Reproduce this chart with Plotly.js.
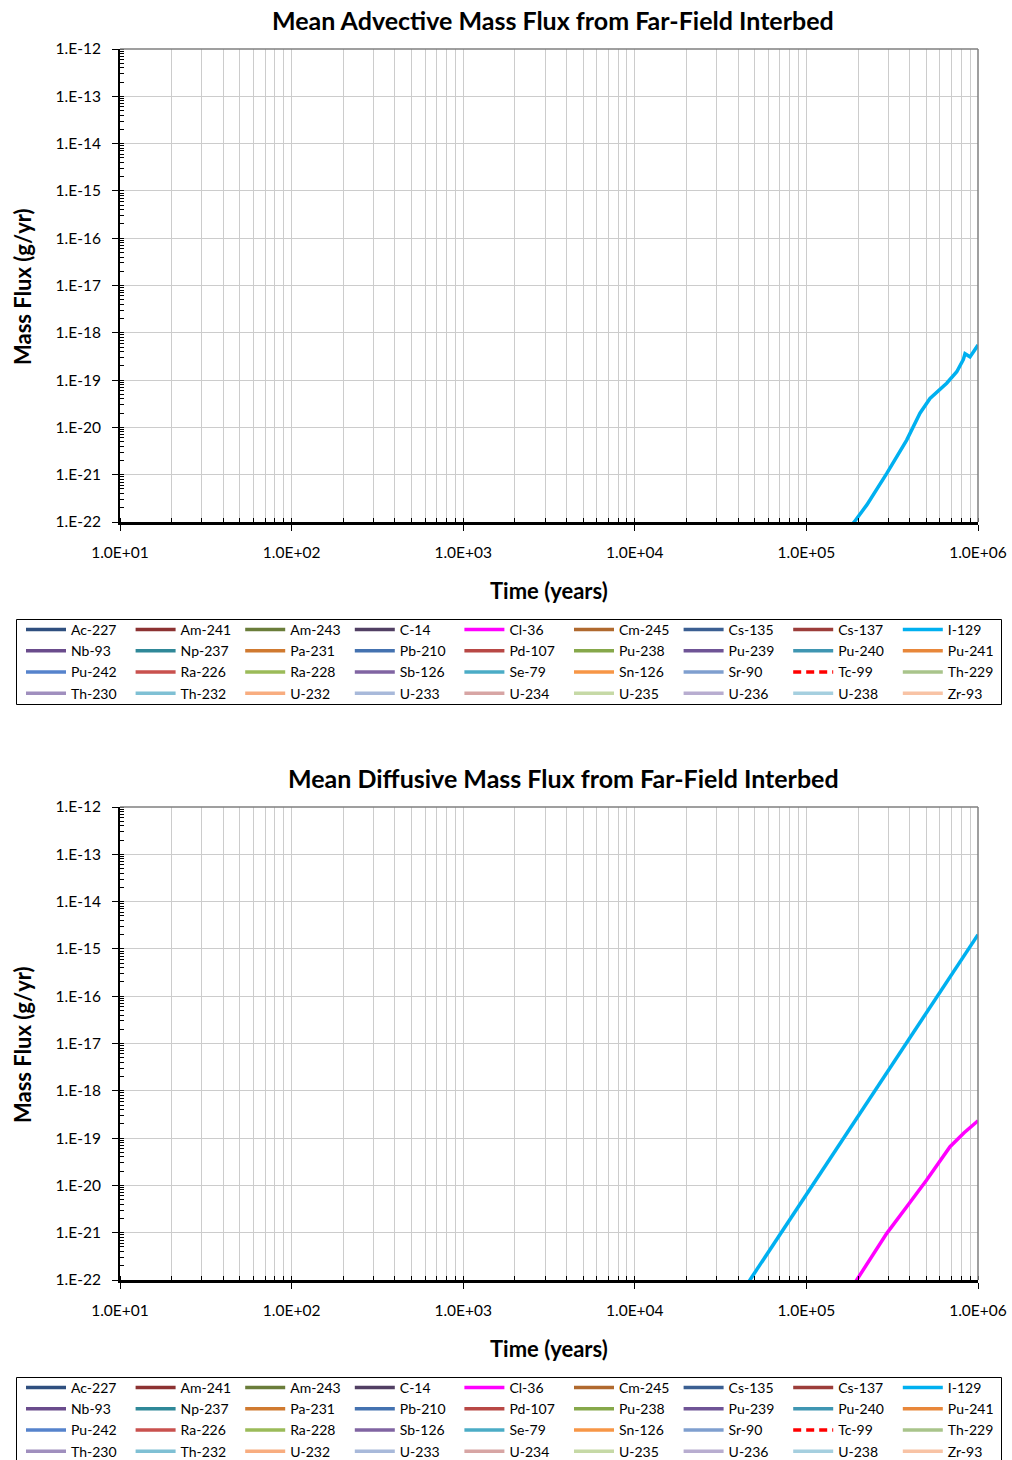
<!DOCTYPE html>
<html>
<head>
<meta charset="utf-8">
<script src="https://cdn.plot.ly/plotly-3.0.1.min.js"></script>
<style>
  html, body { margin: 0; padding: 0; background: #ffffff; }
  #chart { width: 1012px; height: 1460px; }
</style>
</head>
<body>
<div id="chart"></div>
<script>
// Nuclides shown in both legends, in legend order
const nuclides = [
  'Ac-227', 'Am-241', 'Am-243', 'C-14', 'Cl-36', 'Cm-245', 'Cs-135', 'Cs-137', 'I-129',
  'Nb-93', 'Np-237', 'Pa-231', 'Pb-210', 'Pd-107', 'Pu-238', 'Pu-239', 'Pu-240', 'Pu-241',
  'Pu-242', 'Ra-226', 'Ra-228', 'Sb-126', 'Se-79', 'Sn-126', 'Sr-90', 'Tc-99', 'Th-229',
  'Th-230', 'Th-232', 'U-232', 'U-233', 'U-234', 'U-235', 'U-236', 'U-238', 'Zr-93'
];
const nuclideColors = [
  '#2f4f7f', '#8c3232', '#6a7d3a', '#513f63', '#ff00ff', '#b0692e', '#3b5f92', '#9c3d3a', '#00b0f0',
  '#6a4c8c', '#2f8898', '#d07a30', '#4472b0', '#b84845', '#86a84a', '#6f5496', '#3f96b2', '#e8873a',
  '#5683cc', '#c9514e', '#9bbb59', '#8064a2', '#4bacc6', '#f79646', '#7f9fcf', '#ff0000', '#a9c48b',
  '#a08fbe', '#7fc0d4', '#f8ad80', '#a8b9da', '#d7a5a4', '#c6d9a6', '#b8add0', '#a5cfdf', '#f8c3a5'
];

// Mean advective mass flux (g/yr) vs time (years)
const advTimeI129 = [1.85e5, 1.9e5, 2.25e5, 2.94e5, 3.84e5, 4.59e5, 5.25e5, 5.74e5, 6.57e5, 7.52e5, 8.21e5, 8.4e5, 8.98e5, 1.0e6];
const advFluxI129 = [9.0e-23, 1.0e-22, 2.3e-22, 1.07e-21, 5.4e-21, 2.0e-20, 4.1e-20, 5.4e-20, 8.6e-20, 1.5e-19, 2.7e-19, 3.6e-19, 3.1e-19, 5.5e-19];

// Mean diffusive mass flux (g/yr) vs time (years)
const difTimeI129 = [4.5e4, 5.0e4, 1.0e5, 2.0e5, 5.0e5, 1.0e6];
const difFluxI129 = [8.0e-23, 1.43e-22, 6.4e-21, 2.9e-19, 4.6e-17, 2.0e-15];
const difTimeCl36 = [1.9e5, 2.0e5, 2.5e5, 2.94e5, 4.0e5, 5.02e5, 6.87e5, 8.3e5, 1.0e6];
const difFluxCl36 = [8.3e-23, 1.1e-22, 3.9e-22, 9.7e-22, 4.3e-21, 1.3e-20, 6.6e-20, 1.3e-19, 2.33e-19];

// Axis tick labels
const xTickVals = [1e1, 1e2, 1e3, 1e4, 1e5, 1e6];
const xTickText = ['1.0E+01', '1.0E+02', '1.0E+03', '1.0E+04', '1.0E+05', '1.0E+06'];
const yTickVals = [1e-12, 1e-13, 1e-14, 1e-15, 1e-16, 1e-17, 1e-18, 1e-19, 1e-20, 1e-21, 1e-22];
const yTickText = ['1.E-12', '1.E-13', '1.E-14', '1.E-15', '1.E-16', '1.E-17', '1.E-18', '1.E-19', '1.E-20', '1.E-21', '1.E-22'];

const chartTitles = ['Mean Advective Mass Flux from Far-Field Interbed', 'Mean Diffusive Mass Flux from Far-Field Interbed'];
const xTitle = 'Time (years)';
const yTitle = 'Mass Flux (g/yr)';

// Series with flux above the plotted range; every other nuclide has no value to draw
const advSeries = { 'I-129': [advTimeI129, advFluxI129] };
const difSeries = { 'I-129': [difTimeI129, difFluxI129], 'Cl-36': [difTimeCl36, difFluxCl36] };
const noValue = [[null], [null]];

const FONT = 'Lato, "Open Sans", sans-serif';
const W = 1012, H = 1460;
const px = v => v / W;
const py = v => 1 - v / H;

function buildTraces(series, xa, ya, legendId) {
  return nuclides.map((name, i) => {
    const d = series[name] || noValue;
    return {
      type: 'scatter', mode: 'lines', name: name,
      x: d[0], y: d[1],
      xaxis: xa, yaxis: ya, legend: legendId,
      line: { color: nuclideColors[i], width: 3.5, dash: name === 'Tc-99' ? '8px,5px' : 'solid' },
      showlegend: true, hoverinfo: 'skip'
    };
  });
}

const traces = buildTraces(advSeries, 'x', 'y', 'legend')
  .concat(buildTraces(difSeries, 'x2', 'y2', 'legend2'));

const tickFont = { family: FONT, size: 15.5, color: '#000' };

function xAxis(anchor) {
  return {
    type: 'log', range: [1, 6], anchor: anchor,
    domain: [px(120), px(978)],
    tickmode: 'array', tickvals: xTickVals, ticktext: xTickText,
    ticks: 'outside', ticklen: 6, tickwidth: 1, tickcolor: '#000',
    ticklabelstandoff: 9,
    tickfont: tickFont,
    showgrid: true, gridcolor: '#cccccc', gridwidth: 1,
    minor: { dtick: 'D1', ticks: 'inside', ticklen: 4, tickcolor: '#000', showgrid: true, gridcolor: '#cccccc', gridwidth: 1 },
    showline: true, linecolor: '#000', linewidth: 2.5,
    zeroline: false, fixedrange: true, automargin: false
  };
}
function yAxis(anchor, top, bottom) {
  return {
    type: 'log', range: [-22, -12], anchor: anchor,
    domain: [py(bottom), py(top)],
    tickmode: 'array', tickvals: yTickVals, ticktext: yTickText,
    ticks: 'outside', ticklen: 6, tickwidth: 1, tickcolor: '#000',
    ticklabelstandoff: 8,
    tickfont: tickFont,
    showgrid: true, gridcolor: '#cccccc', gridwidth: 1,
    minor: { dtick: 'D1', ticks: 'inside', ticklen: 4, tickcolor: '#000', showgrid: false },
    showline: true, linecolor: '#000', linewidth: 2,
    zeroline: false, fixedrange: true, automargin: false
  };
}

function frameEdges(xr, yr) {
  const ln = { color: '#7f7f7f', width: 1.5 };
  return [
    { type: 'line', xref: xr + ' domain', yref: yr + ' domain', x0: 0, x1: 1, y0: 1, y1: 1, line: ln, layer: 'above' },
    { type: 'line', xref: xr + ' domain', yref: yr + ' domain', x0: 1, x1: 1, y0: 0, y1: 1, line: ln, layer: 'above' }
  ];
}

// Outline around each legend block
function legendFrame(top, bottom) {
  return {
    type: 'rect', xref: 'paper', yref: 'paper',
    x0: px(16.5), x1: px(1001.5), y0: py(bottom), y1: py(top),
    line: { color: '#000', width: 1 }, fillcolor: 'rgba(0,0,0,0)', layer: 'above'
  };
}

// Nine entries per row: each entry is 109.6 px wide in total
function legendBox(top) {
  return {
    orientation: 'h', x: px(21), y: py(top), xanchor: 'left', yanchor: 'top',
    entrywidth: 54.6, entrywidthmode: 'pixels', itemwidth: 40,
    borderwidth: 0, bgcolor: 'rgba(0,0,0,0)',
    font: { family: FONT, size: 14, color: '#000' },
    traceorder: 'normal', itemclick: false, itemdoubleclick: false
  };
}

const titleFont = { family: FONT, size: 25, color: '#000', weight: 'bold' };
const axisTitleFont = { family: FONT, size: 22, color: '#000', weight: 'bold' };

const layout = {
  width: W, height: H,
  margin: { l: 0, r: 0, t: 0, b: 0, autoexpand: false },
  paper_bgcolor: '#fff', plot_bgcolor: '#fff',
  showlegend: true,
  xaxis: xAxis('y'), yaxis: yAxis('x', 49, 522),
  xaxis2: xAxis('y2'), yaxis2: yAxis('x2', 807, 1280),
  legend: legendBox(614),
  legend2: legendBox(1372),
  shapes: frameEdges('x', 'y').concat(frameEdges('x2', 'y2'), [legendFrame(619.5, 704.5), legendFrame(1377.5, 1464)]),
  annotations: [
    { text: chartTitles[0], xref: 'paper', yref: 'paper', x: px(553), y: py(20), showarrow: false, xanchor: 'center', yanchor: 'middle', font: titleFont },
    { text: chartTitles[1], xref: 'paper', yref: 'paper', x: px(563), y: py(778), showarrow: false, xanchor: 'center', yanchor: 'middle', font: titleFont },
    { text: xTitle, xref: 'paper', yref: 'paper', x: px(549), y: py(590), showarrow: false, xanchor: 'center', yanchor: 'middle', font: axisTitleFont },
    { text: xTitle, xref: 'paper', yref: 'paper', x: px(549), y: py(1348), showarrow: false, xanchor: 'center', yanchor: 'middle', font: axisTitleFont },
    { text: yTitle, xref: 'paper', yref: 'paper', x: px(22), y: py(287), showarrow: false, xanchor: 'center', yanchor: 'middle', textangle: -90, font: axisTitleFont },
    { text: yTitle, xref: 'paper', yref: 'paper', x: px(22), y: py(1045), showarrow: false, xanchor: 'center', yanchor: 'middle', textangle: -90, font: axisTitleFont }
  ]
};

Plotly.newPlot('chart', traces, layout, { staticPlot: true, displayModeBar: false });
</script>
</body>
</html>
